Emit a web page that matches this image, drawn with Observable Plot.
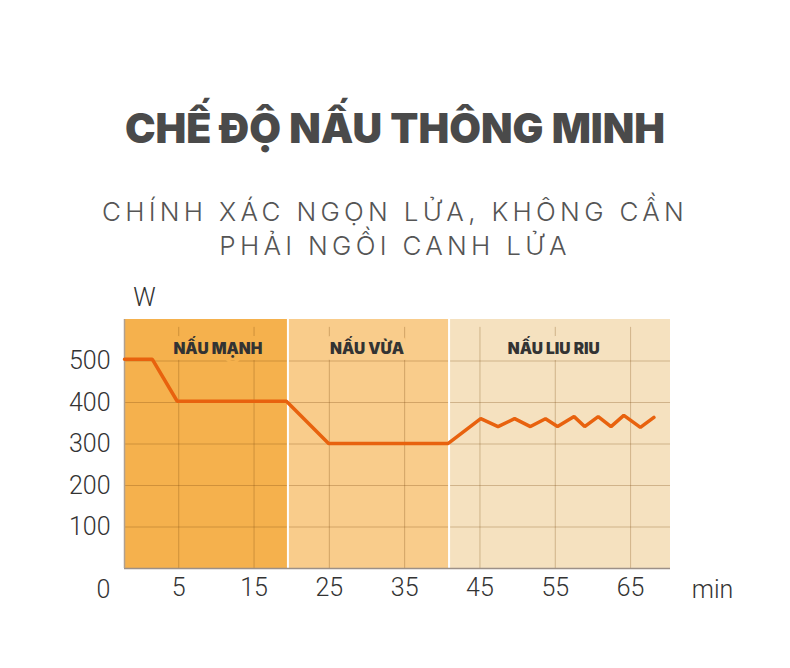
<!DOCTYPE html>
<html><head><meta charset="utf-8">
<script src="https://cdn.jsdelivr.net/npm/d3@7"></script>
<script src="https://cdn.jsdelivr.net/npm/@observablehq/plot@0.6"></script>
<style>
body{margin:0;background:#fff;}
#wrap{position:relative;width:790px;height:668px;overflow:hidden;background:#fff;}
#title{position:absolute;left:0;width:790px;top:108px;text-align:center;font-family:Inter,"Open Sans",sans-serif;font-weight:900;font-size:41px;color:#4a4a4a;line-height:41px;white-space:nowrap;}
#sub{position:absolute;left:0;width:790px;top:195px;text-align:center;font-family:Inter,"Open Sans",sans-serif;font-weight:300;font-size:26px;letter-spacing:4.3px;color:#555;line-height:33.5px;white-space:nowrap;}
#chart{position:absolute;left:0;top:280px;}
</style></head><body>
<div id="wrap">
<div id="title">CHẾ ĐỘ NẤU THÔNG MINH</div>
<div id="sub">CHÍNH XÁC NGỌN LỬA, KHÔNG CẦN<br>PHẢI NGỒI CANH LỬA</div>
<div id="chart"></div>
</div>
<script>
// power curve (minutes, watts)
const minutes = [-2.2, 1.5, 4.8, 19.3, 24.9, 40.75, 45.1, 47.4, 49.6, 51.7, 53.7, 55.3, 57.5, 58.9, 60.7, 62.4, 64.1, 66.3, 68.1];
const watts   = [504, 504, 403, 403, 301, 301, 361, 342, 361, 342, 361, 342, 366, 342, 366, 342, 369, 340, 364];
// axes
const xTicks = [5, 15, 25, 35, 45, 55, 65];
const yTicks = [100, 200, 300, 400, 500];
const originLabel = "0";
const yUnit = "W";
const xUnit = "min";
// cooking phases
const phaseNames = ["NẤU MẠNH", "NẤU VỪA", "NẤU LIU RIU"];
const phaseStart = [-2.2, 19.5, 40.9];
const phaseEnd   = [19.5, 40.9, 70.3];
const phaseLabelAt = [10.2, 30, 54.8];
const phaseColors = ["#f5b14d", "#f9cc8b", "#f5e1bf"];

const curve = minutes.map((m, i) => ({m, w: watts[i]}));
const phases = phaseNames.map((name, i) => ({name, x1: phaseStart[i], x2: phaseEnd[i], lx: phaseLabelAt[i], fill: phaseColors[i]}));

const numFont = "Roboto, 'Liberation Sans', sans-serif";
const chart = Plot.plot({
  width: 790,
  height: 340,
  marginTop: 39,
  marginBottom: 52,
  marginLeft: 124,
  marginRight: 120,
  style: {fontFamily: numFont, fontWeight: 300, fontSize: "25px", color: "#333", background: "transparent", overflow: "visible"},
  x: {domain: [phaseStart[0], phaseEnd[2]]},
  y: {domain: [0, 600]},
  marks: [
    Plot.rect(phases, {x1: "x1", x2: "x2", y1: 0, y2: 600, fill: "fill"}),
    Plot.ruleY(yTicks, {stroke: "#7a4a10", strokeOpacity: 0.3, strokeWidth: 1}),
    Plot.ruleX(xTicks, {y1: 0, y2: 581, stroke: "#7a4a10", strokeOpacity: 0.3, strokeWidth: 1}),
    Plot.ruleX(phaseStart.slice(1), {y1: 0, y2: 600, stroke: "#fff", strokeWidth: 2}),
    Plot.text(phases, {x: "lx", y: 530, text: "name", fontFamily: "Inter, sans-serif", fontWeight: 900, fontSize: 15.5, fill: "#333", stroke: "fill", strokeWidth: 12}),
    Plot.ruleY([0], {stroke: "#9c9088", strokeWidth: 1.5}),
    Plot.ruleX([phaseStart[0]], {y1: 0, y2: 600, stroke: "#b0a090", strokeWidth: 1.5}),
    Plot.line(curve, {x: "m", y: "w", stroke: "#e8620e", strokeWidth: 3.5, strokeLinejoin: "miter"}),
    Plot.axisX(xTicks, {tickSize: 0, tickPadding: 10, fontSize: 25, fontFamily: numFont, fontWeight: 300, fill: "#333", label: null}),
    Plot.axisY(yTicks, {tickSize: 0, tickPadding: 14, fontSize: 25, fontFamily: numFont, fontWeight: 300, fill: "#333", label: null}),
    Plot.text([originLabel], {text: d => d, frameAnchor: "bottom-left", textAnchor: "middle", lineAnchor: "middle", dx: -21, dy: 21, fontSize: 25, fontFamily: numFont, fontWeight: 300, fill: "#333"}),
    Plot.text([yUnit], {text: d => d, frameAnchor: "top-left", textAnchor: "middle", lineAnchor: "middle", dx: 20, dy: -22, fontSize: 25, fontFamily: numFont, fontWeight: 300, fill: "#333"}),
    Plot.text([xUnit], {text: d => d, frameAnchor: "bottom-right", textAnchor: "middle", lineAnchor: "middle", dx: 42, dy: 21, fontSize: 25, fontFamily: numFont, fontWeight: 300, fill: "#333"})
  ]
});
document.getElementById("chart").appendChild(chart);
</script>
</body></html>
